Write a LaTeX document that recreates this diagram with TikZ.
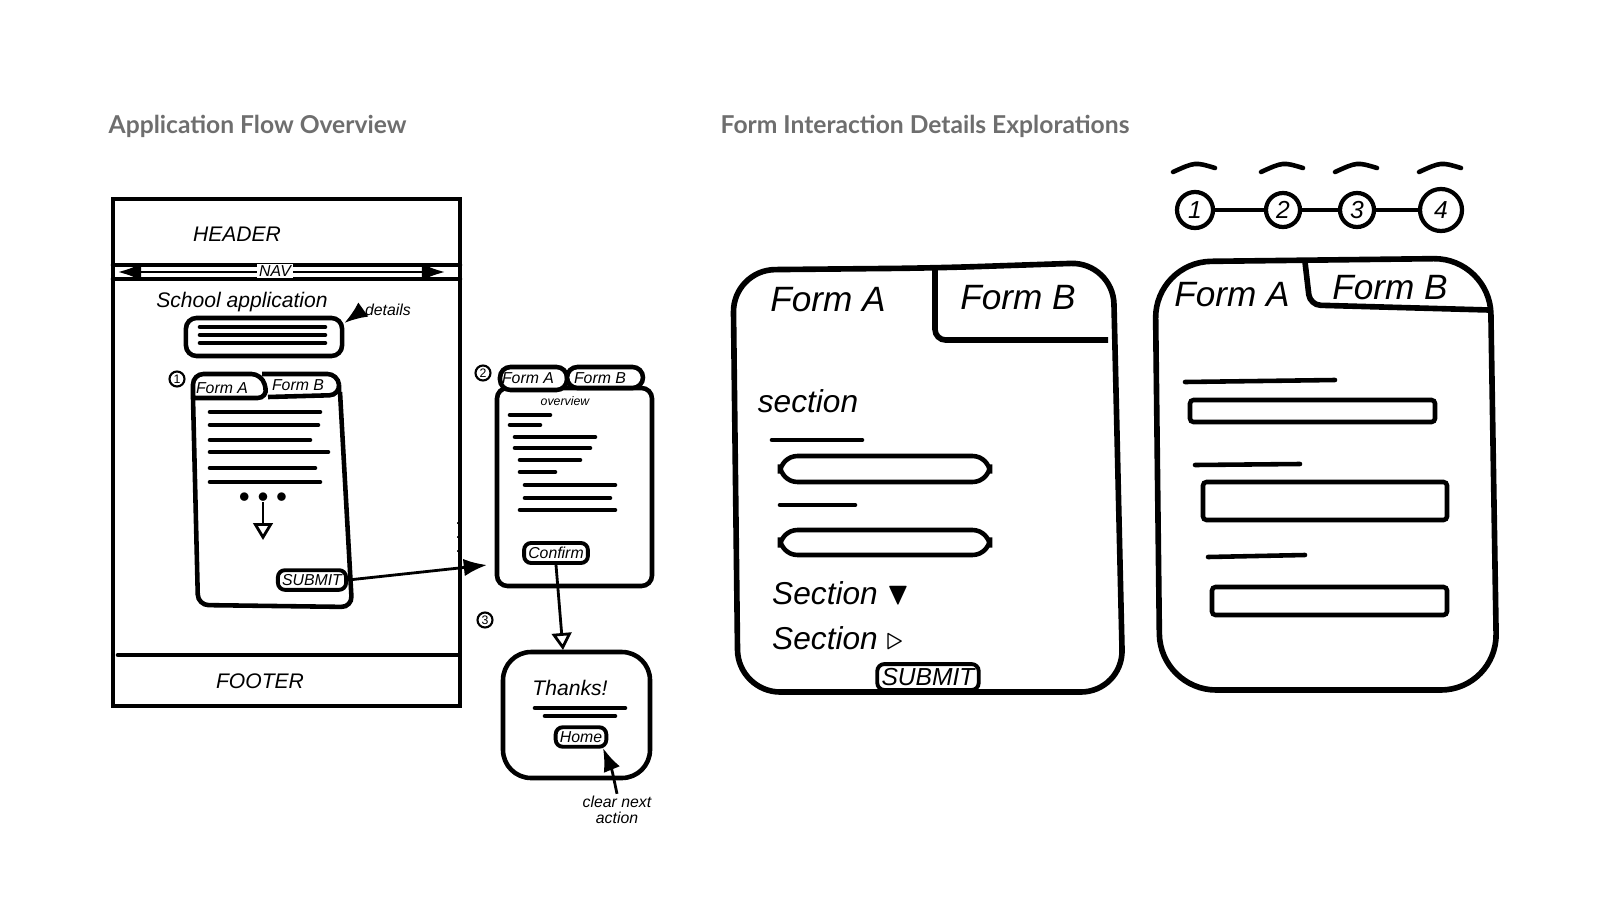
\documentclass[tikz,border=0pt]{standalone}
\usepackage{amssymb}
\usepackage{fontspec}
\newfontfamily\titlefont{Lato}
\setmainfont{Liberation Sans}
\usetikzlibrary{arrows.meta,positioning}
\tikzset{>=Latex}
\definecolor{titlegray}{RGB}{110,110,110}
\newcommand{\fsz}[1]{\fontsize{#1}{#1}\selectfont\itshape}
\tikzset{
  sketch/.style={draw=black, line width=1.3pt, rounded corners=3pt},
  thin sketch/.style={draw=black, line width=0.8pt},
  scribble/.style={line width=1.3pt, line cap=round},
  hand/.style={font=\fsz{6}, inner sep=1pt},
  tiny hand/.style={font=\fsz{4.5}, inner sep=0.5pt},
  big hand/.style={font=\fsz{10}, inner sep=1pt},
  title/.style={font=\titlefont\bfseries\fontsize{7}{8}\selectfont, text=titlegray, anchor=west, inner sep=0pt},
  stepnum/.style={circle, draw=black, line width=1.2pt, minimum size=0.34cm, inner sep=0pt, font=\fsz{7}},
  smallnum/.style={circle, draw=black, line width=0.6pt, minimum size=0.15cm, inner sep=0pt, font=\fontsize{3.5}{4}\selectfont},
  btn/.style={draw=black, line width=1.1pt, rounded corners=2pt, inner sep=1.2pt, font=\fsz{4.5}}
}
\begin{document}
\begin{tikzpicture}[x=0.01cm, y=-0.01cm]
  \useasboundingbox (0,0) rectangle (1600,900);
  % titles
  \node[title] (t1) at (108,126) {Application Flow Overview};
  \node[title] (t2) at (720,126) {Form Interaction Details Explorations};

  % ---- page frame (left)
  \draw[sketch, rounded corners=0pt] (113,199) rectangle (460,706);
  \draw[scribble] (113,265) -- (460,265);
  \draw[scribble] (113,279) -- (460,279);
  \draw[thin sketch, <->] (118,272) -- (445,272);
  \node[tiny hand, fill=white] (nav) at (275,271) {NAV};
  \node[hand] (hdr) at (237,234) {HEADER};
  \draw[scribble] (118,655) -- (458,655);
  \node[hand] (ftr) at (260,681) {FOOTER};
  \node[font=\tiny, inner sep=0pt] (dl) at (114,527) {$\vdots$};
  \node[font=\tiny, inner sep=0pt] (dr) at (458,527) {$\vdots$};
  \node[hand] (school) at (242,302) {School application};
  \node[sketch, minimum width=1.56cm, minimum height=0.38cm] (det) at (264,337) {};
  \foreach \y in {327,335,343} \draw[scribble] (200,\y) -- (325,\y);
  \node[tiny hand] (detl) at (388,310) {details};
  \draw[thin sketch, ->] (detl.west) -- (det.east |- 0,323);

  % ---- form (1)
  \node[smallnum] (s1) at (177,379) {1};
  \draw[sketch] (193,398) -- (198,605) -- (352,607) -- (340,392);
  \draw[sketch] (193,398) -- (193,374) -- (262,374) -- (268,398) -- (193,398);
  \draw[sketch] (262,374) -- (338,374) -- (340,395) -- (268,397);
  \node[tiny hand] (fa1) at (222,388) {Form A};
  \node[tiny hand] (fb1) at (298,385) {Form B};
  \foreach \y/\w in {412/320,425/318,440/310,452/328,468/315,482/320}
    \draw[scribble] (210,\y) -- (\w,\y);
  \node[font=\tiny, inner sep=0pt] (dots1) at (263,497) {$\bullet\bullet\bullet$};
  \draw[thin sketch, -{Triangle[open]}] (dots1.south) -- (263,540);
  \node[btn] (sub1) at (312,580) {SUBMIT};

  % ---- confirm (2)
  \node[smallnum] (s2) at (483,373) {2};
  \draw[sketch] (497,388) rectangle (652,586);
  \draw[sketch, fill=white] (500,367) rectangle (567,390);
  \draw[sketch, fill=white] (567,367) rectangle (643,388);
  \node[tiny hand] (fa2) at (528,378) {Form A};
  \node[tiny hand] (fb2) at (600,378) {Form B};
  \node[font=\fsz{3.5}, inner sep=0pt] (ovw) at (565,401) {overview};
  \foreach \y/\a/\b in {415/510/550,425/510/540,437/515/595,448/515/590,460/520/580,
                        472/520/555,485/525/615,498/525/610,510/520/615}
    \draw[scribble] (\a,\y) -- (\b,\y);
  \node[btn] (conf) at (556,553) {Confirm};
  \draw[thin sketch, ->] (sub1.east) -- (487,565);

  % ---- thanks (3)
  \node[smallnum] (s3) at (485,620) {3};
  \draw[sketch, rounded corners=8pt] (503,652) rectangle (650,778);
  \node[hand] (thx) at (570,688) {Thanks!};
  \draw[scribble] (535,708) -- (625,708);
  \draw[scribble] (545,716) -- (615,716);
  \node[btn] (home) at (581,737) {Home};
  \draw[thin sketch, -{Triangle[open]}] (conf.south) -- (563,650);
  \node[tiny hand, align=center] (clr) at (617,810) {clear next\\action};
  \draw[thin sketch, ->] (clr.north) .. controls (612,770) .. (603,748);

  % ---- explorations: form panel 1
  \draw[sketch, line width=1.6pt, rounded corners=12pt] (733,270) -- (738,692) -- (1123,692) -- (1113,262) -- (935,268) -- cycle;
  \draw[sketch, line width=1.6pt] (935,268) -- (935,340) -- (1108,340);
  \node[big hand] (fa3) at (828,300) {Form A};
  \node[big hand] (fb3) at (1018,298) {Form B};
  \node[big hand, font=\fsz{9}] (sec1) at (808,401) {section};
  \draw[scribble] (772,440) -- (862,440);
  \draw[sketch, rounded corners=5pt] (780,456) rectangle (990,482);
  \draw[scribble] (780,505) -- (855,505);
  \draw[sketch, rounded corners=5pt] (780,530) rectangle (990,555);
  \node[big hand, font=\fsz{9}, anchor=west] (sec2) at (768,593) {Section $\blacktriangledown$};
  \node[big hand, font=\fsz{9}, anchor=west] (sec3) at (768,638) {Section $\triangleright$};
  \node[btn, font=\fsz{7}, minimum width=0.95cm] (sub2) at (928,677) {SUBMIT};

  % ---- stepper
  \foreach \x/\n/\d in {1195/1/0.36, 1283/2/0.34, 1357/3/0.34, 1441/4/0.42} {
    \node[stepnum, minimum size=\d cm] (st\n) at (\x,210) {\n};
    \draw[scribble] (\x-22,172) .. controls (\x,162) .. (\x+20,168);
  }
  \draw[scribble] (st1) -- (st2) -- (st3) -- (st4);

  % ---- explorations: form panel 2
  \draw[sketch, line width=1.6pt, rounded corners=16pt] (1155,262) -- (1160,690) -- (1497,690) -- (1490,258) -- cycle;
  \draw[sketch, line width=1.6pt] (1305,262) -- (1310,305) -- (1489,310);
  \node[big hand] (fa4) at (1232,295) {Form A};
  \node[big hand] (fb4) at (1390,288) {Form B};
  \draw[scribble] (1185,382) -- (1335,380);
  \draw[sketch, rounded corners=1pt] (1190,400) rectangle (1435,422);
  \draw[scribble] (1195,465) -- (1300,464);
  \draw[sketch, rounded corners=1pt] (1203,482) rectangle (1447,520);
  \draw[scribble] (1208,557) -- (1305,555);
  \draw[sketch, rounded corners=1pt] (1212,587) rectangle (1447,615);
\end{tikzpicture}
\end{document}
